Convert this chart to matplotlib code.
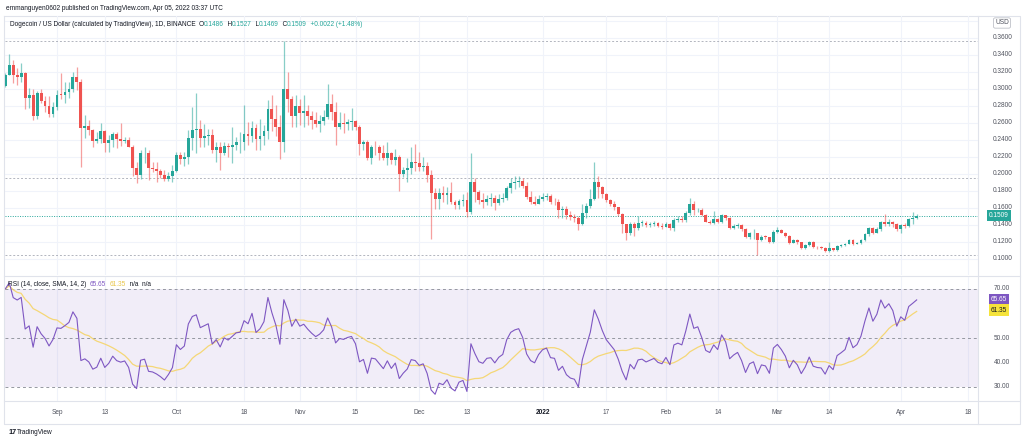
import numpy as np
import pandas as pd
import matplotlib
matplotlib.use("Agg")
import matplotlib.pyplot as plt
import matplotlib.dates as mdates
from matplotlib.transforms import blended_transform_factory as btf

# ---------------- data ----------------
start_date = "2021-08-19"
first_open = 0.303
closes = [
    0.316, 0.328, 0.316, 0.314, 0.318, 0.289, 0.293, 0.268, 0.295, 0.286,
    0.280, 0.270, 0.278, 0.293, 0.2925, 0.296, 0.300, 0.314, 0.308, 0.254,
    0.256, 0.251, 0.239, 0.241, 0.250, 0.236, 0.240, 0.247, 0.241, 0.239,
    0.240, 0.232, 0.207, 0.199, 0.224, 0.225, 0.207, 0.206, 0.203, 0.199,
    0.194, 0.198, 0.203, 0.222, 0.217, 0.220, 0.242, 0.251, 0.253, 0.242,
    0.244, 0.246, 0.228, 0.232, 0.225, 0.233, 0.231, 0.234, 0.237, 0.2375,
    0.247, 0.245, 0.254, 0.241, 0.244, 0.250, 0.276, 0.265, 0.255, 0.237,
    0.300, 0.288, 0.268, 0.280, 0.271, 0.274, 0.268, 0.263, 0.259, 0.262,
    0.267, 0.282, 0.273, 0.255, 0.260, 0.259, 0.261, 0.262, 0.255, 0.235,
    0.237, 0.219, 0.232, 0.231, 0.225, 0.219, 0.225, 0.216, 0.220, 0.200,
    0.204, 0.207, 0.214, 0.213, 0.208, 0.209, 0.199, 0.177, 0.170, 0.177,
    0.175, 0.178, 0.167, 0.163, 0.168, 0.169, 0.155, 0.190, 0.179, 0.169,
    0.167, 0.171, 0.1715, 0.166, 0.170, 0.172, 0.183, 0.189, 0.191, 0.192,
    0.186, 0.173, 0.167, 0.165, 0.170, 0.173, 0.174, 0.167, 0.1665, 0.157,
    0.159, 0.152, 0.149, 0.148, 0.141, 0.154, 0.162, 0.171, 0.190, 0.184,
    0.176, 0.169, 0.165, 0.161, 0.153, 0.141, 0.131, 0.141, 0.136, 0.142,
    0.1425, 0.140, 0.141, 0.142, 0.139, 0.138, 0.141, 0.136, 0.146, 0.147,
    0.146, 0.1536, 0.1646, 0.157, 0.158, 0.152, 0.144, 0.1426, 0.1466, 0.1438,
    0.1517, 0.1477, 0.1368, 0.1387, 0.1400, 0.1348, 0.126, 0.130, 0.1309, 0.1223,
    0.1262, 0.1255, 0.1203, 0.1321, 0.134, 0.131, 0.127, 0.1191, 0.1225, 0.1195,
    0.1132, 0.1160, 0.1203, 0.1144, 0.1135, 0.1132, 0.1093, 0.1124, 0.1100, 0.1152,
    0.1163, 0.1175, 0.1223, 0.1178, 0.119, 0.1223, 0.129, 0.136, 0.131, 0.1348,
    0.1438, 0.1407, 0.1435, 0.1410, 0.1348, 0.1399, 0.1385, 0.1466, 0.1487, 0.1509,
]
highs = [
    0.318, 0.341, 0.334, 0.324, 0.330, 0.320, 0.301, 0.300, 0.297, 0.300,
    0.292, 0.292, 0.284, 0.298, 0.318, 0.308, 0.308, 0.320, 0.326, 0.312,
    0.269, 0.263, 0.253, 0.249, 0.260, 0.252, 0.246, 0.249, 0.249, 0.260,
    0.243, 0.243, 0.234, 0.214, 0.228, 0.232, 0.228, 0.214, 0.214, 0.206,
    0.204, 0.202, 0.210, 0.226, 0.226, 0.226, 0.251, 0.279, 0.295, 0.263,
    0.259, 0.253, 0.253, 0.238, 0.238, 0.238, 0.236, 0.255, 0.243, 0.249,
    0.281, 0.261, 0.262, 0.259, 0.265, 0.257, 0.287, 0.293, 0.281, 0.269,
    0.356, 0.320, 0.291, 0.293, 0.288, 0.293, 0.281, 0.274, 0.273, 0.269,
    0.275, 0.306, 0.294, 0.285, 0.273, 0.271, 0.264, 0.277, 0.263, 0.257,
    0.240, 0.240, 0.234, 0.239, 0.234, 0.234, 0.237, 0.226, 0.229, 0.222,
    0.208, 0.219, 0.232, 0.235, 0.226, 0.220, 0.214, 0.204, 0.183, 0.183,
    0.186, 0.184, 0.190, 0.169, 0.171, 0.176, 0.179, 0.224, 0.195, 0.181,
    0.177, 0.175, 0.178, 0.175, 0.176, 0.178, 0.186, 0.195, 0.197, 0.197,
    0.195, 0.190, 0.180, 0.174, 0.175, 0.177, 0.177, 0.176, 0.172, 0.170,
    0.162, 0.162, 0.156, 0.153, 0.151, 0.165, 0.166, 0.182, 0.214, 0.197,
    0.186, 0.177, 0.170, 0.168, 0.161, 0.154, 0.141, 0.143, 0.143, 0.150,
    0.146, 0.145, 0.144, 0.145, 0.144, 0.142, 0.143, 0.142, 0.148, 0.150,
    0.150, 0.156, 0.1713, 0.168, 0.160, 0.160, 0.153, 0.146, 0.1567, 0.148,
    0.153, 0.152, 0.149, 0.141, 0.142, 0.141, 0.136, 0.132, 0.1348, 0.131,
    0.128, 0.128, 0.126, 0.134, 0.138, 0.135, 0.132, 0.128, 0.124, 0.123,
    0.120, 0.118, 0.121, 0.121, 0.115, 0.115, 0.114, 0.120, 0.113, 0.116,
    0.118, 0.119, 0.124, 0.124, 0.120, 0.124, 0.131, 0.138, 0.137, 0.138,
    0.145, 0.1528, 0.147, 0.145, 0.142, 0.141, 0.142, 0.148, 0.1556, 0.1527,
]
lows = [
    0.302, 0.316, 0.307, 0.305, 0.308, 0.276, 0.277, 0.263, 0.265, 0.283,
    0.273, 0.267, 0.267, 0.275, 0.288, 0.283, 0.289, 0.296, 0.299, 0.208,
    0.242, 0.246, 0.231, 0.236, 0.236, 0.226, 0.226, 0.232, 0.230, 0.233,
    0.236, 0.231, 0.197, 0.189, 0.194, 0.213, 0.193, 0.202, 0.191, 0.195,
    0.192, 0.192, 0.191, 0.202, 0.212, 0.209, 0.211, 0.228, 0.225, 0.232,
    0.232, 0.234, 0.224, 0.214, 0.204, 0.222, 0.220, 0.213, 0.228, 0.225,
    0.228, 0.234, 0.238, 0.228, 0.228, 0.234, 0.241, 0.250, 0.245, 0.217,
    0.226, 0.273, 0.255, 0.255, 0.257, 0.255, 0.257, 0.253, 0.255, 0.249,
    0.257, 0.265, 0.263, 0.234, 0.253, 0.248, 0.251, 0.251, 0.251, 0.222,
    0.228, 0.216, 0.212, 0.222, 0.216, 0.216, 0.210, 0.212, 0.210, 0.180,
    0.196, 0.191, 0.200, 0.203, 0.203, 0.203, 0.191, 0.124, 0.159, 0.159,
    0.167, 0.165, 0.165, 0.159, 0.159, 0.162, 0.149, 0.153, 0.167, 0.165,
    0.160, 0.163, 0.162, 0.158, 0.163, 0.167, 0.169, 0.178, 0.182, 0.185,
    0.183, 0.170, 0.164, 0.163, 0.164, 0.168, 0.169, 0.165, 0.163, 0.148,
    0.148, 0.147, 0.146, 0.144, 0.134, 0.140, 0.148, 0.160, 0.169, 0.172,
    0.172, 0.167, 0.162, 0.158, 0.150, 0.131, 0.122, 0.128, 0.127, 0.134,
    0.139, 0.137, 0.138, 0.139, 0.137, 0.135, 0.137, 0.134, 0.133, 0.143,
    0.144, 0.144, 0.152, 0.152, 0.155, 0.150, 0.143, 0.141, 0.141, 0.142,
    0.142, 0.146, 0.135, 0.135, 0.136, 0.133, 0.125, 0.124, 0.123, 0.1046,
    0.121, 0.123, 0.119, 0.119, 0.131, 0.130, 0.126, 0.118, 0.119, 0.118,
    0.112, 0.112, 0.115, 0.113, 0.112, 0.112, 0.108, 0.108, 0.109, 0.109,
    0.114, 0.115, 0.117, 0.116, 0.117, 0.118, 0.121, 0.127, 0.129, 0.130,
    0.133, 0.139, 0.139, 0.138, 0.133, 0.131, 0.136, 0.137, 0.141, 0.1469,
]
# horizontal drawn lines (price levels)
dashed_levels = [0.3561, 0.1951, 0.1047]
last_price = 0.1509
price_ticks = [0.10, 0.12, 0.14, 0.16, 0.18, 0.20, 0.22, 0.24, 0.26, 0.28, 0.30, 0.32, 0.34, 0.36]
rsi_ticks = [70, 50, 40, 30]
rsi_len = 14
rsi_seed_gain, rsi_seed_loss = 0.0070, 0.0030
rsi_last, rsi_ma_last = 65.65, 61.35
tick_dates = ["2021-09-01", "2021-09-13", "2021-10-01", "2021-10-18", "2021-11-01", "2021-11-15",
              "2021-12-01", "2021-12-13", "2022-01-01", "2022-01-17", "2022-02-01", "2022-02-14",
              "2022-03-01", "2022-03-14", "2022-04-01", "2022-04-18"]
tick_labels = ["Sep", "13", "Oct", "18", "Nov", "15", "Dec", "13", "2022", "17", "Feb", "14",
               "Mar", "14", "Apr", "18"]

# ---------------- derived ----------------
n = len(closes)
dates = pd.date_range(start_date, periods=n, freq="D")
xd = mdates.date2num(dates)
opens = [first_open] + closes[:-1]
o = np.array(opens); c = np.array(closes); h = np.array(highs); l = np.array(lows)

ag, al = rsi_seed_gain, rsi_seed_loss
rsi = [100 - 100 / (1 + ag / al)]
for d in np.diff(c):
    ag = (ag * (rsi_len - 1) + max(d, 0)) / rsi_len
    al = (al * (rsi_len - 1) + max(-d, 0)) / rsi_len
    rsi.append(100 - 100 / (1 + ag / al))
rsi = pd.Series(rsi)
rsi_ma = rsi.rolling(rsi_len, min_periods=1).mean()

# ---------------- style ----------------
plt.rcParams["font.family"] = ["Liberation Sans", "DejaVu Sans"]
UP, DN = "#26a69a", "#ef5350"
TXT = "#131722"
AX = "#50535e"
GRID = "#f0f3fa"
BORDER = "#e0e3eb"
PURPLE = "#7e57c2"
YEL = "#f5d776"
FS = 4.7

W, H = 1024, 442
fig = plt.figure(figsize=(W / 100, H / 100), dpi=100)
fig.patch.set_facecolor("white")

def fx(px): return px / W
def fy(py): return 1 - py / H
def axes_px(x0, y0, x1, y1):
    return fig.add_axes([fx(x0), fy(y1), fx(x1) - fx(x0), fy(y0) - fy(y1)])

# x limits from pixel calibration (Sep 1 at x=57, 3.98 px/day)
sep1 = mdates.date2num(pd.Timestamp("2021-09-01"))
xlim = (sep1 + (5 - 57) / 3.98, sep1 + (978 - 57) / 3.98)
tick_x = mdates.date2num(pd.to_datetime(tick_dates))

# ---- price panel ----
axp = axes_px(5, 16, 978, 275)
axp.set_xlim(*xlim)
axp.set_ylim(0.36 - (275 - 37.7) / 851, 0.36 + (37.7 - 16) / 851)
for t in tick_x:
    axp.axvline(t, color=GRID, lw=0.8, zorder=0)
for p in price_ticks + [0.38]:
    axp.axhline(p, color=GRID, lw=0.8, zorder=0)
for lev in dashed_levels:
    axp.axhline(lev, color="#b2b5be", lw=0.7, ls=(0, (2, 2)), zorder=1)
axp.axhline(last_price, color=UP, lw=0.7, ls=(0, (1, 1.5)), zorder=1)

up = c >= o
cols = np.where(up, UP, DN)
axp.vlines(xd, l, h, colors=cols, lw=0.9, alpha=0.55, zorder=2)
body_lo = np.minimum(o, c)
body_h = np.maximum(np.abs(c - o), 0.0009)
axp.bar(xd, body_h, bottom=body_lo, width=0.72, color=cols, edgecolor="none", zorder=3)
axp.axis("off")

# ---- RSI panel ----
axr = axes_px(5, 277, 978, 401)
axr.set_xlim(*xlim)
axr.set_ylim(70 - (401 - 289) / 2.45, 70 + (289 - 277) / 2.45)
for t in tick_x:
    axr.axvline(t, color=GRID, lw=0.8, zorder=0)
axr.axhspan(30, 70, color=PURPLE, alpha=0.1, lw=0, zorder=0)
for lev in (70, 50, 30):
    axr.axhline(lev, color="#9598a1", lw=0.7, ls=(0, (3, 3)), zorder=1)
axr.plot(xd, rsi_ma, color=YEL, lw=0.9, zorder=2)
axr.plot(xd, rsi, color=PURPLE, lw=0.8, zorder=3)
axr.axis("off")

# ---- frame lines ----
frame = fig.add_axes([0, 0, 1, 1], zorder=-1)
frame.set_xlim(0, W); frame.set_ylim(H, 0); frame.axis("off")
frame.plot([4, 1020, 1020, 4, 4], [16, 16, 424, 424, 16], color=BORDER, lw=0.8)
frame.plot([978, 978], [16, 424], color=BORDER, lw=0.8)
frame.plot([4, 1020], [276, 276], color=BORDER, lw=0.8)
frame.plot([4, 1020], [401, 401], color=BORDER, lw=0.8)

# ---- header ----
fig.text(fx(6), fy(8), "emmanguyen0602 published on TradingView.com, Apr 05, 2022 03:37 UTC",
         fontsize=FS, color=TXT, va="center", ha="left")
renderer = fig.canvas.get_renderer()

def seq_text(x_px, y_px, parts, size=FS):
    x = x_px
    for s, col in parts:
        t = fig.text(fx(x), fy(y_px), s, color=col, fontsize=size, va="center", ha="left")
        x += t.get_window_extent(renderer=renderer).width

seq_text(10, 24, [("Dogecoin / US Dollar (calculated by TradingView), 1D, BINANCE  O", TXT),
                  ("0.1486", UP), ("  H", TXT), ("0.1527", UP), ("  L", TXT), ("0.1469", UP),
                  ("  C", TXT), ("0.1509", UP), ("  +0.0022 (+1.48%)", UP)])
seq_text(8, 284, [("RSI (14, close, SMA, 14, 2)  ", TXT), ("65.65", PURPLE), ("  ", TXT),
                  ("61.35", "#e8c547"), ("  n/a  n/a", TXT)])

# ---- price axis labels ----
trp = btf(fig.transFigure, axp.transData)
for p in price_ticks:
    if abs(p - last_price) < 0.006:
        continue
    axp.text(fx(1003), p, f"{p:.4f}", transform=trp, fontsize=FS, color=AX, ha="center", va="center")
axp.text(fx(999), last_price, f"{last_price:.4f}", transform=trp, fontsize=FS, color="white",
         ha="center", va="center", bbox=dict(boxstyle="square,pad=0.35", fc=UP, ec="none"))
fig.text(fx(1002), fy(23), "USD", fontsize=FS, color=AX, ha="center", va="center",
         bbox=dict(boxstyle="round,pad=0.25", fc="white", ec="#b2b5be", lw=0.5))

trr = btf(fig.transFigure, axr.transData)
for v in rsi_ticks:
    axr.text(fx(1002), v, f"{v:.2f}", transform=trr, fontsize=FS, color=AX, ha="center", va="center")
axr.text(fx(999), rsi_last, f"{rsi_last:.2f}", transform=trr, fontsize=FS, color="white",
         ha="center", va="center", bbox=dict(boxstyle="square,pad=0.35", fc=PURPLE, ec="none"))
axr.text(fx(999), rsi_ma_last, f"{rsi_ma_last:.2f}", transform=trr, fontsize=FS, color=TXT,
         ha="center", va="center", bbox=dict(boxstyle="square,pad=0.35", fc="#f5e33b", ec="none"))

# ---- time axis ----
trt = btf(axr.transData, fig.transFigure)
for t, lab in zip(tick_x, tick_labels):
    axr.text(t, fy(413), lab, transform=trt, fontsize=FS, color=TXT if lab == "2022" else AX,
             ha="center", va="center", fontweight="bold" if lab == "2022" else "normal")

# ---- footer ----
fig.text(fx(8), fy(433), "17", fontsize=FS + 0.5, color=TXT, fontweight="bold", va="center", ha="left")
fig.text(fx(17), fy(433), "TradingView", fontsize=FS, color=TXT, va="center", ha="left")

fig.savefig("out.png", dpi=100, facecolor="white")
